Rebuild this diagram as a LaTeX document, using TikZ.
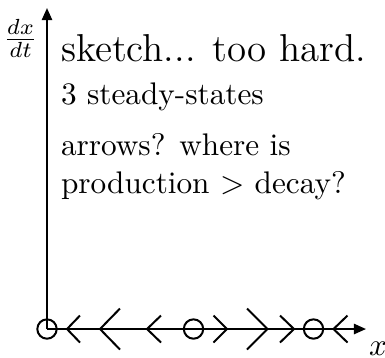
\documentclass[tikz,border=0pt]{standalone}
\usetikzlibrary{arrows.meta}
\begin{document}
\begin{tikzpicture}[x=0.32pt,y=-0.32pt,
  line width=0.64pt,
  axis/.style={-{Triangle[length=3.9pt,width=3.3pt]}},
  fixpt/.style={circle,draw,line width=0.64pt,minimum size=6.2pt,inner sep=0pt},
  txt/.style={anchor=base west,inner sep=0pt,font=\normalsize},
  chev/.style={line width=0.64pt}]
\useasboundingbox (0,0) rectangle (385,357);
\coordinate (O) at (47,329);
\coordinate (ytop) at (47,8);
\coordinate (xend) at (366,329);
\draw[axis] (O) -- (ytop);
\draw[axis] (O) -- (xend);
\node[anchor=base,inner sep=0pt] (dxdt) at (20.5,47) {$\frac{dx}{dt}$};
\node[anchor=base west,inner sep=0pt] (xlab) at (368,355) {$x$};
% fixed points
\node[fixpt] (s1) at (O) {};
\node[fixpt] (s2) at (193.5,329) {};
\node[fixpt] (s3) at (313.5,329) {};
% chevrons
\draw[chev] (80,315.5) -- (67,329) -- (80,342.5);
\draw[chev] (120,308.5) -- (100,329) -- (120,349.5);
\draw[chev] (161,315.5) -- (147,329) -- (161,342.5);
\draw[chev] (213.5,315.5) -- (227,329) -- (213.5,342.5);
\draw[chev] (247,308.5) -- (267.5,329) -- (247,349.5);
\draw[chev] (280,315.5) -- (294,329) -- (280,342.5);
\draw[chev] (347.5,315.5) -- (333.5,329) -- (347.5,342.5);
% text
\node[txt,font=\fontsize{12.45}{15}\selectfont] (t1) at (60,61.5) {sketch... too hard.};
\node[txt] (t2) at (60,104.5) {3 steady-states};
\node[txt] (t3) at (60,155.5) {arrows? where is};
\node[txt] (t4) at (60,193.5) {production $>$ decay?};
\end{tikzpicture}
\end{document}
